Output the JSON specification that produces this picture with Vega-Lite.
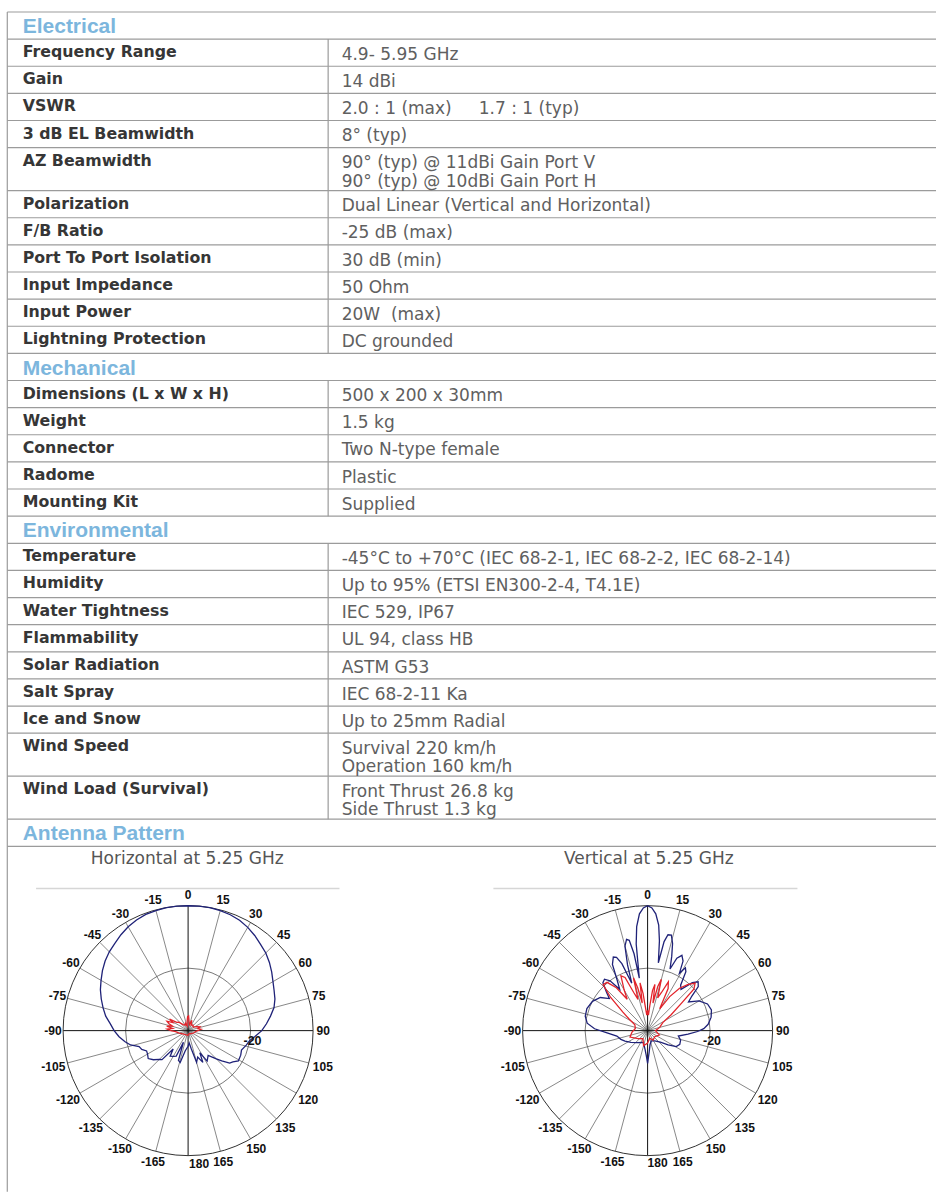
{
"$schema": "https://vega.github.io/schema/vega-lite/v6.json",
"width": 937,
"height": 1193,
"autosize": {"type": "fit", "contains": "padding"},
"padding": 0,
"background": "#ffffff",
"config": {"view": {"stroke": null}},
"datasets": {
"rows": [
{"order":1,"kind":"h","label":"Electrical","lines":1},
{"order":2,"kind":"r","label":"Frequency Range","value":"4.9- 5.95 GHz","lines":1},
{"order":3,"kind":"r","label":"Gain","value":"14 dBi","lines":1},
{"order":4,"kind":"r","label":"VSWR","value":"2.0 : 1 (max)\u00a0\u00a0\u00a0\u00a0 1.7 : 1 (typ)","lines":1},
{"order":5,"kind":"r","label":"3 dB EL Beamwidth","value":"8° (typ)","lines":1},
{"order":6,"kind":"r","label":"AZ Beamwidth","value":"90° (typ) @ 11dBi Gain Port V","value2":"90° (typ) @ 10dBi Gain Port H","lines":2},
{"order":7,"kind":"r","label":"Polarization","value":"Dual Linear (Vertical and Horizontal)","lines":1},
{"order":8,"kind":"r","label":"F/B Ratio","value":"-25 dB (max)","lines":1},
{"order":9,"kind":"r","label":"Port To Port Isolation","value":"30 dB (min)","lines":1},
{"order":10,"kind":"r","label":"Input Impedance","value":"50 Ohm","lines":1},
{"order":11,"kind":"r","label":"Input Power","value":"20W\u00a0 (max)","lines":1},
{"order":12,"kind":"r","label":"Lightning Protection","value":"DC grounded","lines":1},
{"order":13,"kind":"h","label":"Mechanical","lines":1},
{"order":14,"kind":"r","label":"Dimensions (L x W x H)","value":"500 x 200 x 30mm","lines":1},
{"order":15,"kind":"r","label":"Weight","value":"1.5 kg","lines":1},
{"order":16,"kind":"r","label":"Connector","value":"Two N-type female","lines":1},
{"order":17,"kind":"r","label":"Radome","value":"Plastic","lines":1},
{"order":18,"kind":"r","label":"Mounting Kit","value":"Supplied","lines":1},
{"order":19,"kind":"h","label":"Environmental","lines":1},
{"order":20,"kind":"r","label":"Temperature","value":"-45°C to +70°C (IEC 68-2-1, IEC 68-2-2, IEC 68-2-14)","lines":1},
{"order":21,"kind":"r","label":"Humidity","value":"Up to 95% (ETSI EN300-2-4, T4.1E)","lines":1},
{"order":22,"kind":"r","label":"Water Tightness","value":"IEC 529, IP67","lines":1},
{"order":23,"kind":"r","label":"Flammability","value":"UL 94, class HB","lines":1},
{"order":24,"kind":"r","label":"Solar Radiation","value":"ASTM G53","lines":1},
{"order":25,"kind":"r","label":"Salt Spray","value":"IEC 68-2-11 Ka","lines":1},
{"order":26,"kind":"r","label":"Ice and Snow","value":"Up to 25mm Radial","lines":1},
{"order":27,"kind":"r","label":"Wind Speed","value":"Survival 220 km/h","value2":"Operation 160 km/h","lines":2},
{"order":28,"kind":"r","label":"Wind Load (Survival)","value":"Front Thrust 26.8 kg","value2":"Side Thrust 1.3 kg","lines":2},
{"order":29,"kind":"h","label":"Antenna Pattern","lines":1}
],
"ticks": [{"a":0},{"a":15},{"a":30},{"a":45},{"a":60},{"a":75},{"a":90},{"a":105},{"a":120},{"a":135},{"a":150},{"a":165},{"a":180},{"a":-15},{"a":-30},{"a":-45},{"a":-60},{"a":-75},{"a":-90},{"a":-105},{"a":-120},{"a":-135},{"a":-150},{"a":-165}],
"pat": [
{"p":"H","s":"co","a":-180,"g":-35},{"p":"H","s":"co","a":-172,"g":-33.5},{"p":"H","s":"co","a":-166,"g":-29.5},{"p":"H","s":"co","a":-162,"g":-30},{"p":"H","s":"co","a":-158,"g":-36},{"p":"H","s":"co","a":-155,"g":-31},{"p":"H","s":"co","a":-150,"g":-30.5},{"p":"H","s":"co","a":-145,"g":-30},{"p":"H","s":"co","a":-141,"g":-32.4},{"p":"H","s":"co","a":-138,"g":-27.5},{"p":"H","s":"co","a":-135,"g":-27},{"p":"H","s":"co","a":-130,"g":-25.5},{"p":"H","s":"co","a":-125,"g":-24.4},{"p":"H","s":"co","a":-120,"g":-25},{"p":"H","s":"co","a":-116,"g":-25.2},{"p":"H","s":"co","a":-112,"g":-24},{"p":"H","s":"co","a":-108,"g":-23.5},{"p":"H","s":"co","a":-104,"g":-21},{"p":"H","s":"co","a":-100,"g":-19.5},{"p":"H","s":"co","a":-95,"g":-17.8},{"p":"H","s":"co","a":-90,"g":-16.3},{"p":"H","s":"co","a":-85,"g":-15},{"p":"H","s":"co","a":-80,"g":-13.2},{"p":"H","s":"co","a":-75,"g":-11.8},{"p":"H","s":"co","a":-70,"g":-10.4},{"p":"H","s":"co","a":-65,"g":-9},{"p":"H","s":"co","a":-60,"g":-7.8},{"p":"H","s":"co","a":-55,"g":-6.5},{"p":"H","s":"co","a":-50,"g":-5.3},{"p":"H","s":"co","a":-45,"g":-4.3},{"p":"H","s":"co","a":-40,"g":-3.5},{"p":"H","s":"co","a":-35,"g":-2.5},{"p":"H","s":"co","a":-30,"g":-1.6},{"p":"H","s":"co","a":-25,"g":-0.9},{"p":"H","s":"co","a":-20,"g":-0.4},{"p":"H","s":"co","a":-15,"g":-0.2},{"p":"H","s":"co","a":-10,"g":0},{"p":"H","s":"co","a":-5,"g":0},{"p":"H","s":"co","a":0,"g":0},{"p":"H","s":"co","a":5,"g":0},{"p":"H","s":"co","a":10,"g":0},{"p":"H","s":"co","a":15,"g":-0.2},{"p":"H","s":"co","a":20,"g":-0.5},{"p":"H","s":"co","a":25,"g":-1},{"p":"H","s":"co","a":30,"g":-1.8},{"p":"H","s":"co","a":35,"g":-2.8},{"p":"H","s":"co","a":40,"g":-3.9},{"p":"H","s":"co","a":45,"g":-4.8},{"p":"H","s":"co","a":50,"g":-6},{"p":"H","s":"co","a":55,"g":-7.3},{"p":"H","s":"co","a":60,"g":-8.6},{"p":"H","s":"co","a":65,"g":-9.6},{"p":"H","s":"co","a":70,"g":-10.4},{"p":"H","s":"co","a":75,"g":-11.5},{"p":"H","s":"co","a":80,"g":-13.2},{"p":"H","s":"co","a":85,"g":-14.8},{"p":"H","s":"co","a":90,"g":-16.4},{"p":"H","s":"co","a":95,"g":-18.5},{"p":"H","s":"co","a":99,"g":-20},{"p":"H","s":"co","a":104,"g":-20.8},{"p":"H","s":"co","a":110,"g":-21.8},{"p":"H","s":"co","a":115,"g":-21.4},{"p":"H","s":"co","a":121,"g":-21.2},{"p":"H","s":"co","a":125,"g":-22.5},{"p":"H","s":"co","a":128,"g":-23.1},{"p":"H","s":"co","a":132,"g":-25.5},{"p":"H","s":"co","a":135,"g":-27.2},{"p":"H","s":"co","a":141,"g":-29.8},{"p":"H","s":"co","a":148,"g":-28.5},{"p":"H","s":"co","a":152,"g":-32},{"p":"H","s":"co","a":155,"g":-28.8},{"p":"H","s":"co","a":160,"g":-31},{"p":"H","s":"co","a":165,"g":-29.5},{"p":"H","s":"co","a":170,"g":-34},{"p":"H","s":"co","a":175,"g":-36},{"p":"H","s":"co","a":180,"g":-35},
{"p":"H","s":"x","a":-180,"g":-38.5},{"p":"H","s":"x","a":-150,"g":-38.5},{"p":"H","s":"x","a":-120,"g":-38},{"p":"H","s":"x","a":-105,"g":-37},{"p":"H","s":"x","a":-95,"g":-36},{"p":"H","s":"x","a":-90,"g":-34.5},{"p":"H","s":"x","a":-86,"g":-33.3},{"p":"H","s":"x","a":-82,"g":-35},{"p":"H","s":"x","a":-78,"g":-33},{"p":"H","s":"x","a":-74,"g":-34.8},{"p":"H","s":"x","a":-70,"g":-33.5},{"p":"H","s":"x","a":-66,"g":-32.6},{"p":"H","s":"x","a":-62,"g":-34.5},{"p":"H","s":"x","a":-58,"g":-33},{"p":"H","s":"x","a":-54,"g":-35.5},{"p":"H","s":"x","a":-48,"g":-36},{"p":"H","s":"x","a":-40,"g":-37.5},{"p":"H","s":"x","a":-30,"g":-38},{"p":"H","s":"x","a":-20,"g":-37.5},{"p":"H","s":"x","a":-12,"g":-38.5},{"p":"H","s":"x","a":-6,"g":-37},{"p":"H","s":"x","a":-2,"g":-35.5},{"p":"H","s":"x","a":2,"g":-35.3},{"p":"H","s":"x","a":6,"g":-37},{"p":"H","s":"x","a":12,"g":-38},{"p":"H","s":"x","a":20,"g":-36.5},{"p":"H","s":"x","a":28,"g":-38},{"p":"H","s":"x","a":40,"g":-37.6},{"p":"H","s":"x","a":55,"g":-38},{"p":"H","s":"x","a":65,"g":-37},{"p":"H","s":"x","a":72,"g":-36},{"p":"H","s":"x","a":78,"g":-36.8},{"p":"H","s":"x","a":84,"g":-35.8},{"p":"H","s":"x","a":88,"g":-36.5},{"p":"H","s":"x","a":95,"g":-37.5},{"p":"H","s":"x","a":110,"g":-38},{"p":"H","s":"x","a":130,"g":-38.5},{"p":"H","s":"x","a":160,"g":-39},{"p":"H","s":"x","a":180,"g":-38.5},
{"p":"V","s":"co","a":-180,"g":-29.5},{"p":"V","s":"co","a":-177,"g":-32},{"p":"V","s":"co","a":-172,"g":-34},{"p":"V","s":"co","a":-160,"g":-36},{"p":"V","s":"co","a":-140,"g":-35},{"p":"V","s":"co","a":-125,"g":-33.5},{"p":"V","s":"co","a":-115,"g":-32},{"p":"V","s":"co","a":-108,"g":-31},{"p":"V","s":"co","a":-100,"g":-30},{"p":"V","s":"co","a":-93,"g":-27},{"p":"V","s":"co","a":-88,"g":-23},{"p":"V","s":"co","a":-83,"g":-20.5},{"p":"V","s":"co","a":-77,"g":-19.5},{"p":"V","s":"co","a":-70,"g":-19.3},{"p":"V","s":"co","a":-62,"g":-20},{"p":"V","s":"co","a":-55,"g":-21.5},{"p":"V","s":"co","a":-50,"g":-24},{"p":"V","s":"co","a":-47,"g":-22},{"p":"V","s":"co","a":-43,"g":-19},{"p":"V","s":"co","a":-40,"g":-18.5},{"p":"V","s":"co","a":-37,"g":-20},{"p":"V","s":"co","a":-34,"g":-24},{"p":"V","s":"co","a":-31,"g":-21},{"p":"V","s":"co","a":-28,"g":-16},{"p":"V","s":"co","a":-25,"g":-14},{"p":"V","s":"co","a":-23,"g":-14.5},{"p":"V","s":"co","a":-21,"g":-17},{"p":"V","s":"co","a":-18.5,"g":-24},{"p":"V","s":"co","a":-17,"g":-18},{"p":"V","s":"co","a":-15,"g":-12},{"p":"V","s":"co","a":-13,"g":-10},{"p":"V","s":"co","a":-11.5,"g":-10.5},{"p":"V","s":"co","a":-10,"g":-15},{"p":"V","s":"co","a":-9,"g":-23},{"p":"V","s":"co","a":-7.5,"g":-12},{"p":"V","s":"co","a":-6,"g":-6.5},{"p":"V","s":"co","a":-4,"g":-2.5},{"p":"V","s":"co","a":-2,"g":-0.7},{"p":"V","s":"co","a":0,"g":0},{"p":"V","s":"co","a":2,"g":-0.7},{"p":"V","s":"co","a":4,"g":-2.5},{"p":"V","s":"co","a":6,"g":-6},{"p":"V","s":"co","a":7.5,"g":-11},{"p":"V","s":"co","a":9,"g":-18},{"p":"V","s":"co","a":10.5,"g":-11},{"p":"V","s":"co","a":12,"g":-8.6},{"p":"V","s":"co","a":14,"g":-8.5},{"p":"V","s":"co","a":16,"g":-11},{"p":"V","s":"co","a":18,"g":-15},{"p":"V","s":"co","a":20,"g":-19},{"p":"V","s":"co","a":22,"g":-15},{"p":"V","s":"co","a":24.5,"g":-13.5},{"p":"V","s":"co","a":27,"g":-15},{"p":"V","s":"co","a":29,"g":-19},{"p":"V","s":"co","a":31,"g":-16.5},{"p":"V","s":"co","a":33,"g":-17.5},{"p":"V","s":"co","a":36,"g":-22},{"p":"V","s":"co","a":39,"g":-23},{"p":"V","s":"co","a":43,"g":-19},{"p":"V","s":"co","a":46,"g":-17.5},{"p":"V","s":"co","a":49,"g":-18.5},{"p":"V","s":"co","a":52,"g":-22},{"p":"V","s":"co","a":55,"g":-24},{"p":"V","s":"co","a":60,"g":-21},{"p":"V","s":"co","a":66,"g":-19},{"p":"V","s":"co","a":72,"g":-18.5},{"p":"V","s":"co","a":78,"g":-19.2},{"p":"V","s":"co","a":84,"g":-20.5},{"p":"V","s":"co","a":88,"g":-22},{"p":"V","s":"co","a":91,"g":-24},{"p":"V","s":"co","a":95,"g":-27},{"p":"V","s":"co","a":100,"g":-30},{"p":"V","s":"co","a":106,"g":-29},{"p":"V","s":"co","a":113,"g":-28.8},{"p":"V","s":"co","a":119,"g":-29.5},{"p":"V","s":"co","a":125,"g":-32},{"p":"V","s":"co","a":132,"g":-34.5},{"p":"V","s":"co","a":145,"g":-36},{"p":"V","s":"co","a":160,"g":-36.5},{"p":"V","s":"co","a":170,"g":-35.5},{"p":"V","s":"co","a":176,"g":-33},{"p":"V","s":"co","a":180,"g":-29.5},
{"p":"V","s":"x","a":-180,"g":-36},{"p":"V","s":"x","a":-165,"g":-35},{"p":"V","s":"x","a":-150,"g":-37},{"p":"V","s":"x","a":-130,"g":-36},{"p":"V","s":"x","a":-110,"g":-34},{"p":"V","s":"x","a":-95,"g":-35},{"p":"V","s":"x","a":-80,"g":-36},{"p":"V","s":"x","a":-65,"g":-35.5},{"p":"V","s":"x","a":-58,"g":-33},{"p":"V","s":"x","a":-53,"g":-30},{"p":"V","s":"x","a":-48,"g":-24},{"p":"V","s":"x","a":-44,"g":-19.5},{"p":"V","s":"x","a":-40,"g":-19.8},{"p":"V","s":"x","a":-36,"g":-23},{"p":"V","s":"x","a":-33,"g":-28},{"p":"V","s":"x","a":-30,"g":-25},{"p":"V","s":"x","a":-26,"g":-20.5},{"p":"V","s":"x","a":-23,"g":-21.5},{"p":"V","s":"x","a":-20,"g":-27},{"p":"V","s":"x","a":-17,"g":-29.5},{"p":"V","s":"x","a":-15,"g":-22.5},{"p":"V","s":"x","a":-13,"g":-26},{"p":"V","s":"x","a":-11,"g":-31},{"p":"V","s":"x","a":-9,"g":-24.5},{"p":"V","s":"x","a":-7,"g":-28},{"p":"V","s":"x","a":-5,"g":-33},{"p":"V","s":"x","a":-3,"g":-35},{"p":"V","s":"x","a":0,"g":-33.5},{"p":"V","s":"x","a":3,"g":-35},{"p":"V","s":"x","a":5,"g":-32},{"p":"V","s":"x","a":7,"g":-27},{"p":"V","s":"x","a":9,"g":-25},{"p":"V","s":"x","a":11,"g":-31},{"p":"V","s":"x","a":13,"g":-25.5},{"p":"V","s":"x","a":15,"g":-23},{"p":"V","s":"x","a":17,"g":-29},{"p":"V","s":"x","a":20,"g":-27},{"p":"V","s":"x","a":23,"g":-23},{"p":"V","s":"x","a":26,"g":-25},{"p":"V","s":"x","a":29,"g":-32},{"p":"V","s":"x","a":33,"g":-27},{"p":"V","s":"x","a":37,"g":-23},{"p":"V","s":"x","a":41,"g":-20.5},{"p":"V","s":"x","a":45,"g":-18.5},{"p":"V","s":"x","a":48,"g":-20},{"p":"V","s":"x","a":51,"g":-26},{"p":"V","s":"x","a":56,"g":-31},{"p":"V","s":"x","a":62,"g":-34.5},{"p":"V","s":"x","a":75,"g":-36},{"p":"V","s":"x","a":90,"g":-37.5},{"p":"V","s":"x","a":110,"g":-36},{"p":"V","s":"x","a":130,"g":-37},{"p":"V","s":"x","a":150,"g":-36.5},{"p":"V","s":"x","a":165,"g":-37.5},{"p":"V","s":"x","a":180,"g":-36}
]
},
"resolve": {"scale": {"x": "independent", "y": "independent"}},
"layer": [
{
"data": {"name": "rows"},
"transform": [
{"calculate": "datum.lines == 2 ? 1.585 : 1", "as": "span"},
{"window": [{"op": "sum", "field": "span", "as": "y1"}], "sort": [{"field": "order"}], "frame": [null, 0]},
{"calculate": "datum.y1 - datum.span", "as": "y0"},
{"calculate": "datum.y0 + 0.664", "as": "yl"},
{"calculate": "datum.y0 + 0.764", "as": "yv"},
{"calculate": "datum.y0 + 1.445", "as": "yv2"},
{"calculate": "datum.y0 + 0.786", "as": "yh"}
],
"layer": [
{"mark": {"type": "rule", "color": "#9b9b9b", "strokeWidth": 1.2},
 "encoding": {"x": {"datum": 7.3, "type": "quantitative", "scale": {"domain": [0, 937], "nice": false, "zero": false}, "axis": null}, "x2": {"datum": 937},
  "y": {"field": "y1", "type": "quantitative", "scale": {"domain": [-0.44199, 43.4991], "nice": false, "zero": false, "reverse": true}, "axis": null}}},
{"transform": [{"filter": "datum.order == 1"}],
 "mark": {"type": "rule", "color": "#9b9b9b", "strokeWidth": 1.2},
 "encoding": {"x": {"datum": 7.3, "type": "quantitative", "scale": {"domain": [0, 937], "nice": false, "zero": false}, "axis": null}, "x2": {"datum": 937},
  "y": {"field": "y0", "type": "quantitative", "scale": {"domain": [-0.44199, 43.4991], "nice": false, "zero": false, "reverse": true}, "axis": null}}},
{"transform": [{"filter": "datum.order == 1"}],
 "mark": {"type": "rule", "color": "#9b9b9b", "strokeWidth": 1.2},
 "encoding": {"x": {"datum": 7.3, "type": "quantitative", "scale": {"domain": [0, 937], "nice": false, "zero": false}, "axis": null},
  "y": {"field": "y0", "type": "quantitative", "scale": {"domain": [-0.44199, 43.4991], "nice": false, "zero": false, "reverse": true}, "axis": null}, "y2": {"datum": 43.49}}},
{"transform": [{"filter": "datum.kind == 'r'"}],
 "mark": {"type": "rule", "color": "#9b9b9b", "strokeWidth": 1.2},
 "encoding": {"x": {"datum": 328.5, "type": "quantitative", "scale": {"domain": [0, 937], "nice": false, "zero": false}, "axis": null},
  "y": {"field": "y0", "type": "quantitative", "scale": {"domain": [-0.44199, 43.4991], "nice": false, "zero": false, "reverse": true}, "axis": null}, "y2": {"field": "y1"}}},
{"transform": [{"filter": "datum.kind == 'r'"}],
 "mark": {"type": "text", "align": "left", "baseline": "alphabetic", "font": "DejaVu Sans", "fontWeight": "bold", "fontSize": 15.8, "color": "#363636"},
 "encoding": {"x": {"datum": 22.7, "type": "quantitative", "scale": {"domain": [0, 937], "nice": false, "zero": false}, "axis": null},
  "y": {"field": "yl", "type": "quantitative", "scale": {"domain": [-0.44199, 43.4991], "nice": false, "zero": false, "reverse": true}, "axis": null}, "text": {"field": "label"}}},
{"transform": [{"filter": "datum.kind == 'r'"}],
 "mark": {"type": "text", "align": "left", "baseline": "alphabetic", "font": "DejaVu Sans", "fontSize": 17, "color": "#606060"},
 "encoding": {"x": {"datum": 342, "type": "quantitative", "scale": {"domain": [0, 937], "nice": false, "zero": false}, "axis": null},
  "y": {"field": "yv", "type": "quantitative", "scale": {"domain": [-0.44199, 43.4991], "nice": false, "zero": false, "reverse": true}, "axis": null}, "text": {"field": "value"}}},
{"transform": [{"filter": "datum.value2"}],
 "mark": {"type": "text", "align": "left", "baseline": "alphabetic", "font": "DejaVu Sans", "fontSize": 17, "color": "#606060"},
 "encoding": {"x": {"datum": 342, "type": "quantitative", "scale": {"domain": [0, 937], "nice": false, "zero": false}, "axis": null},
  "y": {"field": "yv2", "type": "quantitative", "scale": {"domain": [-0.44199, 43.4991], "nice": false, "zero": false, "reverse": true}, "axis": null}, "text": {"field": "value2"}}},
{"transform": [{"filter": "datum.kind == 'h'"}],
 "mark": {"type": "text", "align": "left", "baseline": "alphabetic", "font": "Liberation Sans", "fontWeight": "bold", "fontSize": 21, "color": "#7cb6dd"},
 "encoding": {"x": {"datum": 22.7, "type": "quantitative", "scale": {"domain": [0, 937], "nice": false, "zero": false}, "axis": null},
  "y": {"field": "yh", "type": "quantitative", "scale": {"domain": [-0.44199, 43.4991], "nice": false, "zero": false, "reverse": true}, "axis": null}, "text": {"field": "label"}}}
]
},
{
"layer": [
{"data": {"values": [{"t": "Horizontal at 5.25 GHz"}]},
 "mark": {"type": "text", "align": "center", "baseline": "alphabetic", "font": "DejaVu Sans", "fontSize": 17, "color": "#555555"},
 "encoding": {"x": {"datum": -0.3, "type": "quantitative", "scale": {"domain": [-60.256, 239.584], "nice": false, "zero": false}, "axis": null},
  "y": {"datum": 53.3, "type": "quantitative", "scale": {"domain": [-51.68, 330.08], "nice": false, "zero": false}, "axis": null}, "text": {"field": "t"}}},
{"data": {"values": [{}]},
 "mark": {"type": "rule", "color": "#d6d6d6", "strokeWidth": 1.5},
 "encoding": {"x": {"datum": -48.7, "type": "quantitative", "scale": {"domain": [-60.256, 239.584], "nice": false, "zero": false}, "axis": null}, "x2": {"datum": 48.5},
  "y": {"datum": 45.5, "type": "quantitative", "scale": {"domain": [-51.68, 330.08], "nice": false, "zero": false}, "axis": null}}},
{"data": {"values": [{}]},
 "mark": {"type": "point", "shape": "circle", "filled": false, "size": 15625, "color": "#555555", "strokeWidth": 0.8, "opacity": 1},
 "encoding": {"x": {"datum": 0, "type": "quantitative", "scale": {"domain": [-60.256, 239.584], "nice": false, "zero": false}, "axis": null},
  "y": {"datum": 0, "type": "quantitative", "scale": {"domain": [-51.68, 330.08], "nice": false, "zero": false}, "axis": null}}},
{"data": {"values": [{}]},
 "mark": {"type": "point", "shape": "circle", "filled": false, "size": 62500, "color": "#333333", "strokeWidth": 1, "opacity": 1},
 "encoding": {"x": {"datum": 0, "type": "quantitative", "scale": {"domain": [-60.256, 239.584], "nice": false, "zero": false}, "axis": null},
  "y": {"datum": 0, "type": "quantitative", "scale": {"domain": [-51.68, 330.08], "nice": false, "zero": false}, "axis": null}}},
{"data": {"name": "ticks"},
 "transform": [{"filter": "datum.a % 90 != 0"}, {"calculate": "0", "as": "z"}, {"calculate": "40*sin(datum.a*PI/180)", "as": "ex"}, {"calculate": "40*cos(datum.a*PI/180)", "as": "ey"}],
 "mark": {"type": "rule", "color": "#555555", "strokeWidth": 0.7},
 "encoding": {"x": {"field": "z", "type": "quantitative", "scale": {"domain": [-60.256, 239.584], "nice": false, "zero": false}, "axis": null}, "x2": {"field": "ex"},
  "y": {"field": "z", "type": "quantitative", "scale": {"domain": [-51.68, 330.08], "nice": false, "zero": false}, "axis": null}, "y2": {"field": "ey"}}},
{"data": {"name": "ticks"},
 "transform": [{"filter": "datum.a % 90 == 0"}, {"calculate": "0", "as": "z"}, {"calculate": "40*sin(datum.a*PI/180)", "as": "ex"}, {"calculate": "40*cos(datum.a*PI/180)", "as": "ey"}],
 "mark": {"type": "rule", "color": "#111111", "strokeWidth": 1},
 "encoding": {"x": {"field": "z", "type": "quantitative", "scale": {"domain": [-60.256, 239.584], "nice": false, "zero": false}, "axis": null}, "x2": {"field": "ex"},
  "y": {"field": "z", "type": "quantitative", "scale": {"domain": [-51.68, 330.08], "nice": false, "zero": false}, "axis": null}, "y2": {"field": "ey"}}},
{"data": {"name": "pat"},
 "transform": [{"filter": "datum.p == 'H' && datum.s == 'co'"}, {"calculate": "max(0, datum.g + 40)", "as": "r"}, {"calculate": "datum.r*sin(datum.a*PI/180)", "as": "cx"}, {"calculate": "datum.r*cos(datum.a*PI/180)", "as": "cy"}],
 "mark": {"type": "line", "color": "#1f2278", "strokeWidth": 1.3},
 "encoding": {"x": {"field": "cx", "type": "quantitative", "scale": {"domain": [-60.256, 239.584], "nice": false, "zero": false}, "axis": null},
  "y": {"field": "cy", "type": "quantitative", "scale": {"domain": [-51.68, 330.08], "nice": false, "zero": false}, "axis": null}, "order": {"field": "a", "type": "quantitative"}}},
{"data": {"name": "pat"},
 "transform": [{"filter": "datum.p == 'H' && datum.s == 'x'"}, {"calculate": "max(0, datum.g + 40)", "as": "r"}, {"calculate": "datum.r*sin(datum.a*PI/180)", "as": "cx"}, {"calculate": "datum.r*cos(datum.a*PI/180)", "as": "cy"}],
 "mark": {"type": "line", "color": "#e3242b", "strokeWidth": 1.3},
 "encoding": {"x": {"field": "cx", "type": "quantitative", "scale": {"domain": [-60.256, 239.584], "nice": false, "zero": false}, "axis": null},
  "y": {"field": "cy", "type": "quantitative", "scale": {"domain": [-51.68, 330.08], "nice": false, "zero": false}, "axis": null}, "order": {"field": "a", "type": "quantitative"}}},
{"data": {"name": "ticks"},
 "transform": [{"filter": "datum.a != 180"}, {"calculate": "43.3 + (cos(datum.a*PI/180) < 0 ? 1.5*pow(sin(datum.a*PI/180),2) : 0)", "as": "rl"}, {"calculate": "datum.rl*sin(datum.a*PI/180)", "as": "lx"}, {"calculate": "datum.rl*cos(datum.a*PI/180)", "as": "ly"}, {"calculate": "'' + datum.a", "as": "lab"}],
 "mark": {"type": "text", "align": "center", "baseline": "middle", "font": "Liberation Sans", "fontWeight": "bold", "fontSize": 12, "color": "#111111"},
 "encoding": {"x": {"field": "lx", "type": "quantitative", "scale": {"domain": [-60.256, 239.584], "nice": false, "zero": false}, "axis": null},
  "y": {"field": "ly", "type": "quantitative", "scale": {"domain": [-51.68, 330.08], "nice": false, "zero": false}, "axis": null}, "text": {"field": "lab"}}},
{"data": {"name": "ticks"},
 "transform": [{"filter": "datum.a == 180"}, {"calculate": "0", "as": "lx"}, {"calculate": "-42.7", "as": "ly"}, {"calculate": "'' + datum.a", "as": "lab"}],
 "mark": {"type": "text", "align": "center", "baseline": "middle", "font": "Liberation Sans", "fontWeight": "bold", "fontSize": 12, "color": "#111111", "dx": 11},
 "encoding": {"x": {"field": "lx", "type": "quantitative", "scale": {"domain": [-60.256, 239.584], "nice": false, "zero": false}, "axis": null},
  "y": {"field": "ly", "type": "quantitative", "scale": {"domain": [-51.68, 330.08], "nice": false, "zero": false}, "axis": null}, "text": {"field": "lab"}}},
{"data": {"values": [{"db": -20}]},
 "transform": [{"calculate": "datum.db + 40", "as": "rx"}, {"calculate": "0", "as": "z"}, {"calculate": "'' + datum.db", "as": "lab"}],
 "mark": {"type": "text", "align": "center", "baseline": "middle", "font": "Liberation Sans", "fontWeight": "bold", "fontSize": 12.5, "color": "#111111", "dx": 2, "dy": 10},
 "encoding": {"x": {"field": "rx", "type": "quantitative", "scale": {"domain": [-60.256, 239.584], "nice": false, "zero": false}, "axis": null},
  "y": {"field": "z", "type": "quantitative", "scale": {"domain": [-51.68, 330.08], "nice": false, "zero": false}, "axis": null}, "text": {"field": "lab"}}}
]
},
{
"layer": [
{"data": {"values": [{"t": "Vertical at 5.25 GHz"}]},
 "mark": {"type": "text", "align": "center", "baseline": "alphabetic", "font": "DejaVu Sans", "fontSize": 17, "color": "#555555"},
 "encoding": {"x": {"datum": 0.4, "type": "quantitative", "scale": {"domain": [-207.456, 92.384], "nice": false, "zero": false}, "axis": null},
  "y": {"datum": 53.3, "type": "quantitative", "scale": {"domain": [-51.68, 330.08], "nice": false, "zero": false}, "axis": null}, "text": {"field": "t"}}},
{"data": {"values": [{}]},
 "mark": {"type": "rule", "color": "#d6d6d6", "strokeWidth": 1.5},
 "encoding": {"x": {"datum": -49.4, "type": "quantitative", "scale": {"domain": [-207.456, 92.384], "nice": false, "zero": false}, "axis": null}, "x2": {"datum": 48},
  "y": {"datum": 45.5, "type": "quantitative", "scale": {"domain": [-51.68, 330.08], "nice": false, "zero": false}, "axis": null}}},
{"data": {"values": [{}]},
 "mark": {"type": "point", "shape": "circle", "filled": false, "size": 15625, "color": "#555555", "strokeWidth": 0.8, "opacity": 1},
 "encoding": {"x": {"datum": 0, "type": "quantitative", "scale": {"domain": [-207.456, 92.384], "nice": false, "zero": false}, "axis": null},
  "y": {"datum": 0, "type": "quantitative", "scale": {"domain": [-51.68, 330.08], "nice": false, "zero": false}, "axis": null}}},
{"data": {"values": [{}]},
 "mark": {"type": "point", "shape": "circle", "filled": false, "size": 62500, "color": "#333333", "strokeWidth": 1, "opacity": 1},
 "encoding": {"x": {"datum": 0, "type": "quantitative", "scale": {"domain": [-207.456, 92.384], "nice": false, "zero": false}, "axis": null},
  "y": {"datum": 0, "type": "quantitative", "scale": {"domain": [-51.68, 330.08], "nice": false, "zero": false}, "axis": null}}},
{"data": {"name": "ticks"},
 "transform": [{"filter": "datum.a % 90 != 0"}, {"calculate": "0", "as": "z"}, {"calculate": "40*sin(datum.a*PI/180)", "as": "ex"}, {"calculate": "40*cos(datum.a*PI/180)", "as": "ey"}],
 "mark": {"type": "rule", "color": "#555555", "strokeWidth": 0.7},
 "encoding": {"x": {"field": "z", "type": "quantitative", "scale": {"domain": [-207.456, 92.384], "nice": false, "zero": false}, "axis": null}, "x2": {"field": "ex"},
  "y": {"field": "z", "type": "quantitative", "scale": {"domain": [-51.68, 330.08], "nice": false, "zero": false}, "axis": null}, "y2": {"field": "ey"}}},
{"data": {"name": "ticks"},
 "transform": [{"filter": "datum.a % 90 == 0"}, {"calculate": "0", "as": "z"}, {"calculate": "40*sin(datum.a*PI/180)", "as": "ex"}, {"calculate": "40*cos(datum.a*PI/180)", "as": "ey"}],
 "mark": {"type": "rule", "color": "#111111", "strokeWidth": 1},
 "encoding": {"x": {"field": "z", "type": "quantitative", "scale": {"domain": [-207.456, 92.384], "nice": false, "zero": false}, "axis": null}, "x2": {"field": "ex"},
  "y": {"field": "z", "type": "quantitative", "scale": {"domain": [-51.68, 330.08], "nice": false, "zero": false}, "axis": null}, "y2": {"field": "ey"}}},
{"data": {"name": "pat"},
 "transform": [{"filter": "datum.p == 'V' && datum.s == 'co'"}, {"calculate": "max(0, datum.g + 40)", "as": "r"}, {"calculate": "datum.r*sin(datum.a*PI/180)", "as": "cx"}, {"calculate": "datum.r*cos(datum.a*PI/180)", "as": "cy"}],
 "mark": {"type": "line", "color": "#1f2278", "strokeWidth": 1.3},
 "encoding": {"x": {"field": "cx", "type": "quantitative", "scale": {"domain": [-207.456, 92.384], "nice": false, "zero": false}, "axis": null},
  "y": {"field": "cy", "type": "quantitative", "scale": {"domain": [-51.68, 330.08], "nice": false, "zero": false}, "axis": null}, "order": {"field": "a", "type": "quantitative"}}},
{"data": {"name": "pat"},
 "transform": [{"filter": "datum.p == 'V' && datum.s == 'x'"}, {"calculate": "max(0, datum.g + 40)", "as": "r"}, {"calculate": "datum.r*sin(datum.a*PI/180)", "as": "cx"}, {"calculate": "datum.r*cos(datum.a*PI/180)", "as": "cy"}],
 "mark": {"type": "line", "color": "#e3242b", "strokeWidth": 1.3},
 "encoding": {"x": {"field": "cx", "type": "quantitative", "scale": {"domain": [-207.456, 92.384], "nice": false, "zero": false}, "axis": null},
  "y": {"field": "cy", "type": "quantitative", "scale": {"domain": [-51.68, 330.08], "nice": false, "zero": false}, "axis": null}, "order": {"field": "a", "type": "quantitative"}}},
{"data": {"name": "ticks"},
 "transform": [{"filter": "datum.a != 180"}, {"calculate": "43.3 + (cos(datum.a*PI/180) < 0 ? 1.5*pow(sin(datum.a*PI/180),2) : 0)", "as": "rl"}, {"calculate": "datum.rl*sin(datum.a*PI/180)", "as": "lx"}, {"calculate": "datum.rl*cos(datum.a*PI/180)", "as": "ly"}, {"calculate": "'' + datum.a", "as": "lab"}],
 "mark": {"type": "text", "align": "center", "baseline": "middle", "font": "Liberation Sans", "fontWeight": "bold", "fontSize": 12, "color": "#111111"},
 "encoding": {"x": {"field": "lx", "type": "quantitative", "scale": {"domain": [-207.456, 92.384], "nice": false, "zero": false}, "axis": null},
  "y": {"field": "ly", "type": "quantitative", "scale": {"domain": [-51.68, 330.08], "nice": false, "zero": false}, "axis": null}, "text": {"field": "lab"}}},
{"data": {"name": "ticks"},
 "transform": [{"filter": "datum.a == 180"}, {"calculate": "0", "as": "lx"}, {"calculate": "-42.3", "as": "ly"}, {"calculate": "'' + datum.a", "as": "lab"}],
 "mark": {"type": "text", "align": "center", "baseline": "middle", "font": "Liberation Sans", "fontWeight": "bold", "fontSize": 12, "color": "#111111", "dx": 10},
 "encoding": {"x": {"field": "lx", "type": "quantitative", "scale": {"domain": [-207.456, 92.384], "nice": false, "zero": false}, "axis": null},
  "y": {"field": "ly", "type": "quantitative", "scale": {"domain": [-51.68, 330.08], "nice": false, "zero": false}, "axis": null}, "text": {"field": "lab"}}},
{"data": {"values": [{"db": -20}]},
 "transform": [{"calculate": "datum.db + 40", "as": "rx"}, {"calculate": "0", "as": "z"}, {"calculate": "'' + datum.db", "as": "lab"}],
 "mark": {"type": "text", "align": "center", "baseline": "middle", "font": "Liberation Sans", "fontWeight": "bold", "fontSize": 12.5, "color": "#111111", "dx": 2, "dy": 10},
 "encoding": {"x": {"field": "rx", "type": "quantitative", "scale": {"domain": [-207.456, 92.384], "nice": false, "zero": false}, "axis": null},
  "y": {"field": "z", "type": "quantitative", "scale": {"domain": [-51.68, 330.08], "nice": false, "zero": false}, "axis": null}, "text": {"field": "lab"}}}
]
}
]
}
